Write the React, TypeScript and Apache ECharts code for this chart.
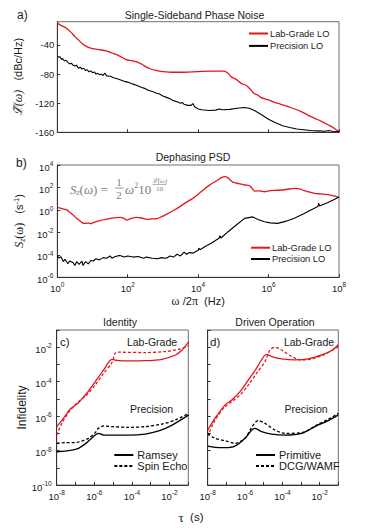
import React, { useEffect, useRef } from "react";
import * as echarts from "echarts";

// ---- Panel a: single-sideband phase noise  [log10 f (Hz), dBc/Hz]
const phaseLabGrade: number[][] = [
  [0, -10], [0.1, -13], [0.26, -17], [0.4, -23], [0.5, -28.5], [0.6, -33], [0.73, -39], [0.85, -42.5],
  [1.0, -45], [1.2, -46.5], [1.39, -48], [1.55, -51], [1.67, -53], [1.8, -56], [1.95, -60], [2.1, -61.5],
  [2.24, -63], [2.4, -66.5], [2.52, -70], [2.65, -73], [2.8, -75], [3.0, -76.5], [3.3, -77.5], [3.6, -77.5],
  [4.0, -76.5], [4.4, -76], [4.74, -76], [4.85, -79], [4.93, -83.5], [5.1, -88], [5.22, -92.7], [5.35, -95],
  [5.41, -97.3], [5.5, -102], [5.58, -106.4], [5.7, -109], [5.79, -112.4], [6.0, -115.5], [6.17, -118.8],
  [6.35, -121.5], [6.55, -124.8], [6.75, -128], [6.93, -131.7], [7.1, -136], [7.31, -140.8], [7.5, -145],
  [7.7, -150], [7.85, -154], [8.0, -159],
];
const phasePrecision: number[][] = [
  [0, -55], [0.05, -57], [0.08, -56], [0.12, -60], [0.15, -58.5], [0.2, -62], [0.25, -61], [0.3, -64],
  [0.35, -66], [0.4, -65], [0.45, -68], [0.5, -69], [0.55, -68], [0.6, -72], [0.65, -70.5], [0.7, -73],
  [0.75, -72], [0.8, -75], [0.85, -74], [0.9, -77], [0.95, -75.5], [1.0, -78], [1.05, -77], [1.1, -80],
  [1.15, -79], [1.2, -81], [1.25, -80], [1.3, -82], [1.35, -78.5], [1.4, -82.5], [1.5, -83], [1.6, -85],
  [1.7, -86.5], [1.8, -88], [1.9, -90], [2.0, -91], [2.1, -93], [2.2, -94.5], [2.3, -96.5], [2.4, -98.5],
  [2.5, -100], [2.6, -102.5], [2.7, -104], [2.8, -106], [2.9, -107.5], [3.0, -110], [3.1, -112],
  [3.2, -114], [3.3, -116.5], [3.4, -118], [3.5, -120], [3.55, -119], [3.6, -121.5], [3.7, -123],
  [3.8, -123], [3.85, -120.5], [3.9, -125], [4.0, -128], [4.1, -129], [4.3, -130], [4.5, -129.5],
  [4.6, -128], [4.7, -129], [4.9, -128.5], [5.1, -127], [5.3, -126], [5.45, -127], [5.6, -130],
  [5.8, -136], [6.0, -142], [6.2, -147], [6.4, -151], [6.6, -153.5], [6.8, -155.5], [7.0, -156.5],
  [7.2, -157.5], [7.4, -158], [7.6, -158.5], [7.7, -157.5], [7.8, -158.5], [8.0, -159],
];

// ---- Panel b: dephasing PSD  [log10 f (Hz), log10 S (s^-1)]
const psdLabGrade: number[][] = [
  [0, 0.22], [0.15, 0.1], [0.27, 0.0], [0.35, -0.2], [0.45, -0.45], [0.55, -0.75], [0.64, -0.96],
  [0.72, -1.15], [0.78, -1.2], [0.9, -1.17], [0.95, -1.22], [1.02, -1.14], [1.2, -0.95], [1.4, -0.81],
  [1.6, -0.7], [1.78, -0.66], [1.9, -0.75], [1.97, -0.9], [2.1, -0.75], [2.25, -0.66], [2.4, -0.72],
  [2.53, -0.84], [2.7, -0.8], [2.82, -0.78], [2.95, -0.62], [3.1, -0.39], [3.3, -0.05], [3.48, 0.29],
  [3.65, 0.65], [3.85, 1.03], [4.04, 1.5], [4.28, 2.12], [4.5, 2.55], [4.75, 2.96], [4.85, 2.85],
  [4.95, 2.55], [5.03, 2.42], [5.15, 2.35], [5.32, 2.22], [5.46, 2.15], [5.55, 1.85], [5.6, 1.68],
  [5.75, 1.7], [5.88, 1.62], [6.05, 1.72], [6.26, 1.75], [6.5, 1.82], [6.73, 1.92], [6.9, 1.85],
  [7.01, 1.71], [7.15, 1.6], [7.3, 1.48], [7.5, 1.42], [7.67, 1.36], [7.85, 1.25], [8.0, 1.12],
];
const psdPrecision: number[][] = [
  [0, -4.1], [0.05, -4.3], [0.1, -4.15], [0.17, -4.6], [0.22, -4.4], [0.3, -4.8], [0.35, -4.55],
  [0.45, -4.7], [0.5, -4.95], [0.55, -4.6], [0.62, -4.85], [0.7, -4.55], [0.73, -4.95], [0.8, -4.6],
  [0.88, -4.8], [0.95, -4.5], [1.02, -4.55], [1.1, -4.35], [1.2, -4.45], [1.3, -4.25], [1.4, -4.3],
  [1.5, -4.1], [1.55, -4.3], [1.65, -4.15], [1.78, -4.05], [1.9, -4.2], [2.0, -4.1], [2.15, -4.2],
  [2.3, -4.15], [2.45, -4.3], [2.53, -4.2], [2.7, -4.3], [2.85, -4.35], [2.95, -4.25], [3.1, -4.3],
  [3.2, -4.1], [3.3, -4.2], [3.4, -3.95], [3.5, -4.1], [3.6, -3.75], [3.67, -3.95], [3.75, -3.8],
  [3.85, -3.85], [4.0, -3.6], [4.02, -3.4], [4.05, -3.55], [4.2, -3.25], [4.37, -2.97], [4.6, -2.5],
  [4.62, -2.3], [4.65, -2.5], [4.85, -1.94], [5.1, -1.3], [5.32, -0.75], [5.55, -0.62], [5.7, -0.85],
  [5.88, -1.05], [6.05, -1.15], [6.26, -1.2], [6.5, -1.0], [6.73, -0.75], [7.0, -0.35], [7.2, 0.0],
  [7.4, 0.3], [7.42, 0.6], [7.45, 0.35], [7.67, 0.64], [7.85, 0.9], [8.0, 1.15],
];

// ---- Panel c: identity  [log10 tau (s), log10 infidelity]
const idLabRamsey: number[][] = [
  [-8, -6.61], [-7.64, -6.13], [-7.29, -5.6], [-6.84, -5.22], [-6.4, -4.67], [-5.95, -4.0], [-5.5, -3.32],
  [-5.06, -2.7], [-4.8, -2.76], [-4.17, -2.79], [-3.28, -2.78], [-2.4, -2.7], [-1.68, -2.45],
  [-1.33, -2.16], [-0.97, -1.67],
];
const idLabEcho: number[][] = [
  [-8, -7.1], [-7.73, -6.42], [-7.29, -5.68], [-6.84, -5.16], [-6.4, -4.77], [-5.95, -4.19], [-5.5, -3.51],
  [-5.06, -2.89], [-4.89, -2.35], [-4.7, -2.29], [-3.28, -2.31], [-2.22, -2.25], [-1.5, -2.12],
  [-0.97, -1.92],
];
const idPrecRamsey: number[][] = [
  [-8, -8.07], [-7.55, -8.03], [-7.2, -7.97], [-6.84, -7.87], [-6.4, -7.54], [-5.95, -7.1], [-5.78, -7.0],
  [-5.5, -7.1], [-5.06, -7.1], [-4.17, -7.1], [-3.28, -7.04], [-2.57, -6.86], [-1.86, -6.52], [-0.97, -5.93],
];
const idPrecEcho: number[][] = [
  [-8, -7.58], [-7.55, -7.54], [-7.02, -7.54], [-6.67, -7.45], [-6.31, -7.29], [-5.95, -6.96],
  [-5.78, -6.71], [-5.5, -6.57], [-5.06, -6.61], [-4.17, -6.65], [-3.28, -6.61], [-2.4, -6.46],
  [-1.68, -6.22], [-0.97, -5.84],
];

// ---- Panel d: driven operation  [log10 tau (s), log10 infidelity]
const drLabPrimitive: number[][] = [
  [-8, -6.81], [-7.61, -6.13], [-7.07, -5.35], [-6.71, -5.06], [-6.27, -4.58], [-5.82, -3.9], [-5.38, -3.22],
  [-4.84, -2.41], [-4.57, -2.54], [-4.04, -2.68], [-3.32, -2.74], [-2.61, -2.68], [-1.89, -2.45],
  [-1.36, -2.19], [-1.0, -1.86],
];
const drLabDcg: number[][] = [
  [-8, -7.19], [-7.7, -6.42], [-7.16, -5.55], [-6.71, -5.16], [-6.27, -4.77], [-5.82, -4.19], [-5.38, -3.51],
  [-4.93, -2.83], [-4.66, -2.16], [-4.39, -2.0], [-4.04, -2.16], [-3.5, -2.54], [-2.96, -2.74],
  [-2.43, -2.68], [-1.71, -2.41], [-1.0, -1.96],
];
const drPrecPrimitive: number[][] = [
  [-8, -7.74], [-7.61, -7.81], [-7.07, -7.83], [-6.54, -7.74], [-6.0, -7.29], [-5.64, -6.81], [-5.46, -6.71],
  [-5.11, -6.9], [-4.57, -7.04], [-3.86, -7.1], [-2.96, -7.0], [-2.25, -6.61], [-1.54, -6.26], [-1.0, -5.93],
];
const drPrecDcg: number[][] = [
  [-8, -7.0], [-7.61, -7.29], [-7.07, -7.43], [-6.54, -7.58], [-6.0, -7.29], [-5.64, -6.65], [-5.29, -6.26],
  [-4.93, -6.42], [-4.39, -6.81], [-3.86, -7.0], [-2.96, -6.96], [-2.07, -6.46], [-1.54, -6.19],
  [-1.0, -5.84],
];

// ---- tick labels
const phaseTicks = [-160, -120, -80, -40];
const freqLabelExps = [0, 2, 4, 6, 8];
const psdLabelExps = [-6, -4, -2, 0, 2, 4];
const tauLabelExps = [-8, -6, -4, -2];
const tauTickExps = [-8, -7, -6, -5, -4, -3, -2, -1];
const infLabelExps = [-10, -8, -6, -4, -2];
const infTickExps = [-10, -9, -8, -7, -6, -5, -4, -3, -2, -1];

const SANS = "Liberation Sans, Arial, sans-serif";
const SERIF = "Liberation Serif, DejaVu Serif, serif";
const RED = "#e3161d";
const BLACK = "#000";
const TXT = "#1a1a1a";
const GRAY = "#808080";

const pow = (e: number) => Math.pow(10, e);
const toPts = (arr: number[][], logX: boolean, logY: boolean) =>
  arr.map(([x, y]) => [logX ? pow(x) : x, logY ? pow(y) : y]);

const supRich = {
  b: { fontSize: 9.5, lineHeight: 10, padding: [4, 0, 0, 0], fontFamily: SANS, color: TXT },
  s: { fontSize: 6.5, lineHeight: 7, verticalAlign: "top", fontFamily: SANS, color: TXT },
};
const supFmt = (v: number) => `{b|10}{s|${Math.round(Math.log10(v))}}`;

const axisLineStyle = { show: true, onZero: false, lineStyle: { color: "#333", width: 1 } };
const tickStyle = { show: true, inside: true, length: 3, lineStyle: { color: "#333", width: 1 } };

export default function App() {
  const ref = useRef<HTMLDivElement>(null);
  useEffect(() => {
    document.body.style.margin = "0";
    if (!ref.current) return;
    const chart = echarts.init(ref.current, undefined, { renderer: "svg" });

    const freqAxis = (gridIndex: number, showLabels: boolean) => ({
      type: "log",
      logBase: 10,
      gridIndex,
      min: 1,
      max: 1e8,
      axisLine: axisLineStyle,
      axisTick: { ...tickStyle, customValues: freqLabelExps.map(pow) },
      splitLine: { show: false },
      axisLabel: {
        show: showLabels,
        customValues: freqLabelExps.map(pow),
        formatter: supFmt,
        rich: supRich,
        margin: 4,
      },
    });
    const tauAxis = (gridIndex: number) => ({
      type: "log",
      logBase: 10,
      gridIndex,
      min: 1e-8,
      max: 1e-1,
      axisLine: axisLineStyle,
      axisTick: { ...tickStyle, customValues: tauTickExps.map(pow) },
      splitLine: { show: false },
      axisLabel: { customValues: tauLabelExps.map(pow), formatter: supFmt, rich: supRich, margin: 4 },
    });
    const infAxis = (gridIndex: number, showLabels: boolean, name?: string) => ({
      type: "log",
      logBase: 10,
      gridIndex,
      min: 1e-10,
      max: 1e-1,
      name,
      nameLocation: "middle",
      nameGap: 28,
      nameRotate: 90,
      nameTextStyle: { fontSize: 12, fontFamily: SANS, color: TXT },
      axisLine: axisLineStyle,
      axisTick: { ...tickStyle, customValues: infTickExps.map(pow) },
      splitLine: { show: false },
      axisLabel: {
        show: showLabels,
        customValues: infLabelExps.map(pow),
        formatter: supFmt,
        rich: supRich,
        margin: 5,
      },
    });

    const line = (
      name: string,
      data: number[][],
      xi: number,
      color: string,
      dashed: boolean,
      smooth: number | boolean,
      width = 1.3
    ) => ({
      name,
      type: "line",
      xAxisIndex: xi,
      yAxisIndex: xi,
      data,
      symbol: "none",
      showSymbol: false,
      smooth,
      itemStyle: { color },
      lineStyle: { color, width, type: dashed ? [3, 2] : "solid" },
      emphasis: { disabled: true },
    });

    const legendBase = {
      orient: "vertical",
      padding: 0,
      itemWidth: 19,
      itemHeight: 8,
      selectedMode: false,
      itemStyle: { opacity: 0 },
    };

    const option: any = {
      animation: false,
      backgroundColor: "#fff",
      grid: [
        { left: 57.3, top: 21.7, width: 281.7, height: 110.6, show: true, borderColor: "#6f6f6f", borderWidth: 1 },
        { left: 57.3, top: 165, width: 281.7, height: 112.3, show: true, borderColor: "#6f6f6f", borderWidth: 1 },
        { left: 56.7, top: 330, width: 131.6, height: 155, show: true, borderColor: "#6f6f6f", borderWidth: 1 },
        { left: 207.7, top: 330, width: 130.6, height: 155, show: true, borderColor: "#6f6f6f", borderWidth: 1 },
      ],
      xAxis: [
        freqAxis(0, false),
        {
          ...freqAxis(1, true),
          name: "{g|ω} {n|/2}{g|π}{n|  (Hz)}",
          nameLocation: "middle",
          nameGap: 18,
          nameTextStyle: {
            rich: {
              g: { fontFamily: SERIF, fontSize: 12, color: TXT },
              n: { fontFamily: SANS, fontSize: 11, color: TXT },
            },
          },
        },
        tauAxis(2),
        tauAxis(3),
      ],
      yAxis: [
        {
          type: "value",
          gridIndex: 0,
          min: -160,
          max: -8,
          name: "{l|ℒ\u0303(ω)}{n|   (dBc/Hz)}",
          nameLocation: "middle",
          nameRotate: 90,
          nameGap: 31,
          nameTextStyle: {
            rich: {
              l: { fontFamily: SERIF, fontStyle: "italic", fontSize: 12, color: TXT },
              n: { fontFamily: SANS, fontSize: 11, color: TXT },
            },
          },
          axisLine: axisLineStyle,
          axisTick: { ...tickStyle, customValues: phaseTicks },
          splitLine: { show: false },
          axisLabel: {
            customValues: phaseTicks,
            fontSize: 9.5,
            fontFamily: SANS,
            color: TXT,
            margin: 3,
          },
        },
        {
          type: "log",
          logBase: 10,
          gridIndex: 1,
          min: 1e-6,
          max: 1e4,
          name: "{i|S}{sub|z}{n|(ω)}{t|   (s}{sup|-1}{t|)}",
          nameLocation: "middle",
          nameRotate: 90,
          nameGap: 28,
          nameTextStyle: {
            rich: {
              i: { fontFamily: SERIF, fontStyle: "italic", fontSize: 12.5, lineHeight: 14, color: TXT },
              n: { fontFamily: SERIF, fontSize: 12, lineHeight: 14, color: TXT },
              sub: { fontFamily: SERIF, fontStyle: "italic", fontSize: 8, lineHeight: 8, verticalAlign: "bottom", color: TXT },
              t: { fontFamily: SANS, fontSize: 11, lineHeight: 14, color: TXT },
              sup: { fontFamily: SANS, fontSize: 7.5, lineHeight: 8, verticalAlign: "top", color: TXT },
            },
          },
          axisLine: axisLineStyle,
          axisTick: { ...tickStyle, customValues: psdLabelExps.map(pow) },
          splitLine: { show: false },
          axisLabel: {
            customValues: psdLabelExps.map(pow),
            formatter: supFmt,
            rich: supRich,
            margin: 4,
          },
        },
        infAxis(2, true, "Infidelity"),
        infAxis(3, false),
      ],
      legend: [
        {
          ...legendBase,
          left: 248,
          top: 28,
          itemGap: 1.4,
          data: ["Lab-Grade LO", "Precision LO"],
          textStyle: { fontSize: 9.3, lineHeight: 11, fontFamily: SANS, color: TXT, padding: [0, 0, 0, -3] },
        },
        {
          ...legendBase,
          left: 250,
          top: 242.2,
          itemGap: 0.3,
          data: ["Lab-Grade LO", "Precision LO"],
          textStyle: { fontSize: 9.3, lineHeight: 11, fontFamily: SANS, color: TXT, padding: [0, 0, 0, -3] },
        },
        {
          ...legendBase,
          left: 113.3,
          top: 449.5,
          itemGap: 0,
          data: ["Ramsey", "Spin Echo"],
          textStyle: { fontSize: 11, lineHeight: 11, fontFamily: SANS, color: TXT, padding: [0, 0, 0, -1] },
        },
        {
          ...legendBase,
          left: 255,
          top: 449.5,
          itemGap: 0,
          data: ["Primitive", "DCG/WAMF"],
          textStyle: { fontSize: 11, lineHeight: 11, fontFamily: SANS, color: TXT, padding: [0, 0, 0, -1] },
        },
      ],
      series: [
        line("Lab-Grade LO", toPts(phaseLabGrade, true, false), 0, RED, false, 0.3),
        line("Precision LO", toPts(phasePrecision, true, false), 0, BLACK, false, false, 1.1),
        line("Lab-Grade LO", toPts(psdLabGrade, true, true), 1, RED, false, 0.3),
        line("Precision LO", toPts(psdPrecision, true, true), 1, BLACK, false, false, 1.1),
        line("Lab-Grade Ramsey", toPts(idLabRamsey, true, true), 2, RED, false, 0.3),
        line("Lab-Grade Spin Echo", toPts(idLabEcho, true, true), 2, RED, true, 0.3),
        line("Ramsey", toPts(idPrecRamsey, true, true), 2, BLACK, false, 0.3),
        line("Spin Echo", toPts(idPrecEcho, true, true), 2, BLACK, true, 0.3),
        line("Lab-Grade Primitive", toPts(drLabPrimitive, true, true), 3, RED, false, 0.3),
        line("Lab-Grade DCG/WAMF", toPts(drLabDcg, true, true), 3, RED, true, 0.3),
        line("Primitive", toPts(drPrecPrimitive, true, true), 3, BLACK, false, 0.3),
        line("DCG/WAMF", toPts(drPrecDcg, true, true), 3, BLACK, true, 0.3),
      ],
      graphic: [
        // titles
        { type: "text", x: 194.5, y: 15, style: { text: "Single-Sideband Phase Noise", fontSize: 10.5, fontFamily: SANS, fill: TXT, align: "center", verticalAlign: "middle" } },
        { type: "text", x: 193, y: 157, style: { text: "Dephasing PSD", fontSize: 10.5, fontFamily: SANS, fill: TXT, align: "center", verticalAlign: "middle" } },
        { type: "text", x: 120, y: 321.5, style: { text: "Identity", fontSize: 10.5, fontFamily: SANS, fill: TXT, align: "center", verticalAlign: "middle" } },
        { type: "text", x: 275, y: 321.5, style: { text: "Driven Operation", fontSize: 10.5, fontFamily: SANS, fill: TXT, align: "center", verticalAlign: "middle" } },
        // panel letters
        { type: "text", x: 17, y: 15, style: { text: "a)", fontSize: 12, fontFamily: SANS, fill: TXT, verticalAlign: "middle" } },
        { type: "text", x: 16, y: 163, style: { text: "b)", fontSize: 12, fontFamily: SANS, fill: TXT, verticalAlign: "middle" } },
        { type: "text", x: 60, y: 341.5, style: { text: "c)", fontSize: 11.5, fontFamily: SANS, fill: TXT, verticalAlign: "middle" } },
        { type: "text", x: 210, y: 341.5, style: { text: "d)", fontSize: 11.5, fontFamily: SANS, fill: TXT, verticalAlign: "middle" } },
        // curve annotations
        { type: "text", x: 152, y: 341.5, style: { text: "Lab-Grade", fontSize: 10.5, fontFamily: SANS, fill: TXT, align: "center", verticalAlign: "middle" } },
        { type: "text", x: 151.5, y: 409.3, style: { text: "Precision", fontSize: 10.5, fontFamily: SANS, fill: TXT, align: "center", verticalAlign: "middle" } },
        { type: "text", x: 309, y: 341.5, style: { text: "Lab-Grade", fontSize: 10.5, fontFamily: SANS, fill: TXT, align: "center", verticalAlign: "middle" } },
        { type: "text", x: 306, y: 409.3, style: { text: "Precision", fontSize: 10.5, fontFamily: SANS, fill: TXT, align: "center", verticalAlign: "middle" } },
        // shared tau axis title
        {
          type: "text",
          x: 191,
          y: 517,
          style: {
            text: "{g|τ}{n|  (s)}",
            align: "center",
            verticalAlign: "middle",
            rich: {
              g: { fontFamily: SERIF, fontSize: 13, fill: TXT },
              n: { fontFamily: SANS, fontSize: 11.5, fill: TXT },
            },
          },
        },
        // formula in panel b
        {
          type: "text",
          x: 70,
          y: 189,
          style: {
            text: "{i|S}{sub|z}{n|(}{i|ω}{n|) = }",
            verticalAlign: "middle",
            rich: {
              i: { fontFamily: SERIF, fontStyle: "italic", fontSize: 13, lineHeight: 15, fill: GRAY },
              n: { fontFamily: SERIF, fontSize: 13, lineHeight: 15, fill: GRAY },
              sub: { fontFamily: SERIF, fontStyle: "italic", fontSize: 8, lineHeight: 8, verticalAlign: "bottom", fill: GRAY },
            },
          },
        },
        { type: "text", x: 119, y: 182, style: { text: "1", fontFamily: SERIF, fontSize: 11, fill: GRAY, align: "center", verticalAlign: "middle" } },
        { type: "line", shape: { x1: 115, y1: 188, x2: 123.5, y2: 188 }, style: { stroke: GRAY, lineWidth: 0.8 } },
        { type: "text", x: 119, y: 194.5, style: { text: "2", fontFamily: SERIF, fontSize: 11, fill: GRAY, align: "center", verticalAlign: "middle" } },
        {
          type: "text",
          x: 125,
          y: 189,
          style: {
            text: "{i|ω}{sup|2}{n|10}",
            verticalAlign: "middle",
            rich: {
              i: { fontFamily: SERIF, fontStyle: "italic", fontSize: 13, lineHeight: 15, fill: GRAY },
              n: { fontFamily: SERIF, fontSize: 13, lineHeight: 15, fill: GRAY },
              sup: { fontFamily: SERIF, fontSize: 8, lineHeight: 8, verticalAlign: "top", fill: GRAY },
            },
          },
        },
        { type: "text", x: 159.5, y: 180.5, style: { text: "ℒ(ω)", fontFamily: SERIF, fontStyle: "italic", fontSize: 7, fill: GRAY, align: "center", verticalAlign: "middle" } },
        { type: "line", shape: { x1: 152.5, y1: 184.5, x2: 166.5, y2: 184.5 }, style: { stroke: GRAY, lineWidth: 0.6 } },
        { type: "text", x: 159.5, y: 188.5, style: { text: "10", fontFamily: SERIF, fontSize: 7, fill: GRAY, align: "center", verticalAlign: "middle" } },
      ],
    };

    chart.setOption(option);
    return () => chart.dispose();
  }, []);

  return <div ref={ref} style={{ width: 374, height: 531 }} />;
}
